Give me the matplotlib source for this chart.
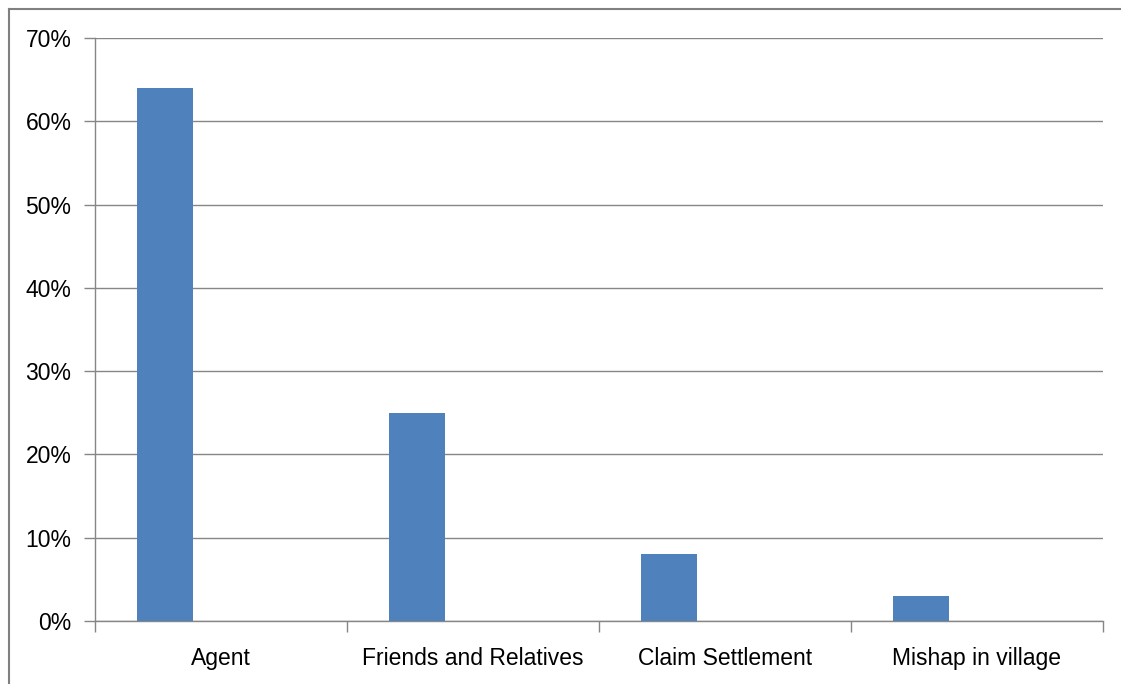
import matplotlib.pyplot as plt
from matplotlib.lines import Line2D
from matplotlib.ticker import FixedLocator, PercentFormatter

categories = ['Agent', 'Friends and Relatives', 'Claim Settlement', 'Mishap in village']
shares = [64, 25, 8, 3]

plt.rcParams['font.family'] = ['Liberation Sans', 'DejaVu Sans']

fig = plt.figure(figsize=(11.21, 6.84), dpi=100)
ax = fig.add_axes([95 / 1121, 63 / 684, 1008 / 1121, 583 / 684])

grid_color = '#868686'
pos = [i + 0.278 for i in range(len(categories))]
ax.bar(pos, shares, width=0.222, color='#4f81bd', zorder=3)

ax.set_xlim(0, len(categories))
ax.set_ylim(0, 70)
ax.set_yticks(range(0, 71, 10))
ax.yaxis.set_major_formatter(PercentFormatter(decimals=0))
ax.yaxis.grid(True, color=grid_color, linewidth=1)

ax.xaxis.set_major_locator(FixedLocator(range(len(categories) + 1)))
ax.xaxis.set_minor_locator(FixedLocator([i + 0.5 for i in range(len(categories))]))
ax.set_xticklabels([])
ax.set_xticklabels(categories, minor=True)
ax.tick_params(axis='x', which='minor', length=0, pad=19, labelsize=16.5)
ax.tick_params(axis='x', which='major', length=8, color=grid_color, width=1)
ax.tick_params(axis='y', length=8, color=grid_color, width=1, labelsize=16.5, pad=9)

for side in ['top', 'right']:
    ax.spines[side].set_visible(False)
for side in ['left', 'bottom']:
    ax.spines[side].set_color(grid_color)
    ax.spines[side].set_linewidth(1)

# outer chart border (only top and left visible)
fig.add_artist(Line2D([9 / 1121, 1], [1 - 9 / 684, 1 - 9 / 684], color='#808080', linewidth=1.5))
fig.add_artist(Line2D([9 / 1121, 9 / 1121], [0, 1 - 9 / 684], color='#808080', linewidth=1.5))

fig.savefig('out.png', dpi=100)
